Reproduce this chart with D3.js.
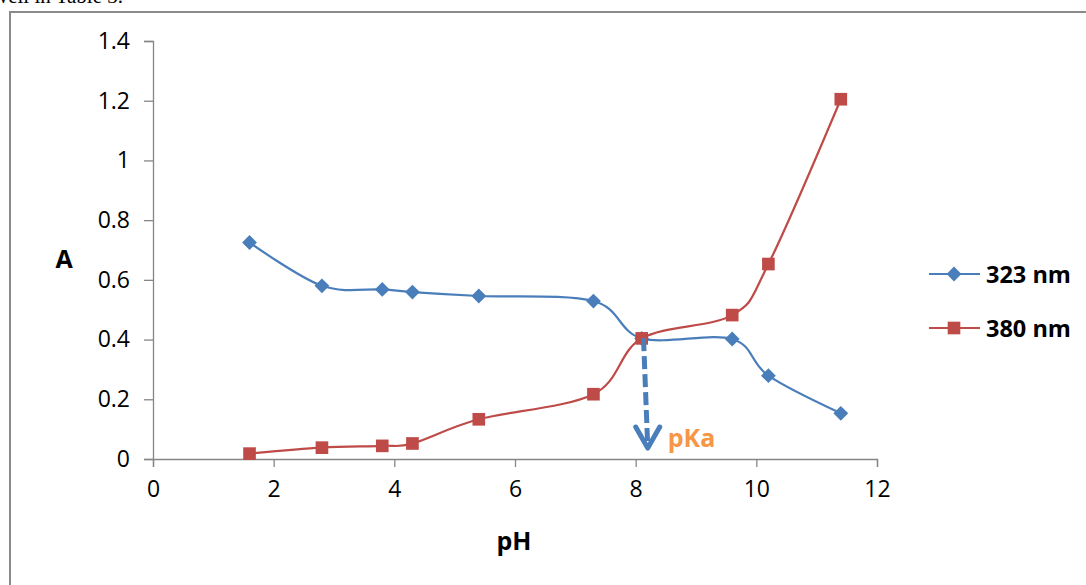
<!DOCTYPE html>
<html>
<head>
<meta charset="utf-8">
<script src="https://cdn.jsdelivr.net/npm/d3@7"></script>
<style>
body{margin:0;background:#fff;overflow:hidden;}
svg{display:block;}
</style>
</head>
<body>
<svg id="chart" width="1086" height="585"></svg>
<script>
// pH values and absorbances
let pH = [1.6, 2.8, 3.8, 4.3, 5.4, 7.3, 8.1, 9.6, 10.2, 11.4];
let abs323 = [0.725, 0.58, 0.568, 0.559, 0.546, 0.529, 0.404, 0.402, 0.279, 0.153];
let abs380 = [0.018, 0.038, 0.044, 0.052, 0.133, 0.217, 0.404, 0.482, 0.653, 1.205];
let seriesNames = ["323 nm", "380 nm"];
let xTicks = [0, 2, 4, 6, 8, 10, 12];
let yTicks = [0, 0.2, 0.4, 0.6, 0.8, 1, 1.2, 1.4];
// pKa arrow: from the crossing point down to the axis
let pkaX = [8.13, 8.2];
let pkaY = [0.405, 0.03];

let svg = d3.select("#chart");
let blue = "#4a7ebb", red = "#be4b48", grey = "#868686";
let font = "'Open Sans', sans-serif";

// page text cut off above the chart frame
svg.append("text").attr("x", -7).attr("y", 3)
  .text("well in Table 3.")
  .style("font", "21px 'Liberation Serif', serif").style("fill", "#000");

// chart frame
svg.append("path").attr("d", "M10,600V12H1100")
  .style("fill", "none").style("stroke", "#8a8a8a").style("stroke-width", 2);

let x = d3.scaleLinear().domain([0, 12]).range([153, 877]);
let y = d3.scaleLinear().domain([0, 1.4]).range([459, 41]);

let yAxis = d3.axisLeft(y).tickValues(yTicks).tickSize(9).tickPadding(14)
  .tickFormat(d => d3.format("")(+d.toFixed(1)));
let xAxis = d3.axisBottom(x).tickValues(xTicks).tickSize(8).tickPadding(14);

let gy = svg.append("g").attr("transform", "translate(153,0)").call(yAxis);
let gx = svg.append("g").attr("transform", "translate(0,459)").call(xAxis);
[gx, gy].forEach(g => {
  g.select(".domain").style("stroke", grey).style("stroke-width", 1.3);
  g.selectAll(".tick line").style("stroke", grey).style("stroke-width", 1.3);
  g.selectAll(".tick text").style("font", "23px " + font).style("fill", "#000");
});

svg.append("text").attr("x", 64).attr("y", 258).attr("text-anchor", "middle")
  .attr("dominant-baseline", "central").text("A")
  .style("font", "bold 25px " + font);
svg.append("text").attr("x", 514).attr("y", 540).attr("text-anchor", "middle")
  .attr("dominant-baseline", "central").text("pH")
  .style("font", "bold 25px " + font);

let line = d3.line().x(d => x(d[0])).y(d => y(d[1])).curve(d3.curveCatmullRom.alpha(0));

// square diamond marker
let diamond = {draw(ctx, size) {
  let r = Math.sqrt(size / 2);
  ctx.moveTo(0, -r); ctx.lineTo(r, 0); ctx.lineTo(0, r); ctx.lineTo(-r, 0); ctx.closePath();
}};

let series = [
  {name: seriesNames[0], vals: abs323, color: blue, shape: diamond, size: 110},
  {name: seriesNames[1], vals: abs380, color: red, shape: d3.symbolSquare, size: 160}
];

series.forEach((s, k) => {
  let pts = pH.map((p, i) => [p, s.vals[i]]);
  svg.append("path").attr("d", line(pts))
    .style("fill", "none").style("stroke", s.color).style("stroke-width", 2.2);
  svg.append("g").selectAll("path").data(pts).enter().append("path")
    .attr("transform", d => `translate(${x(d[0])},${y(d[1])})`)
    .attr("d", d3.symbol().type(s.shape).size(s.size))
    .style("fill", s.color);

  // legend
  let ly = 274 + k * 54;
  svg.append("line").attr("x1", 929).attr("x2", 980).attr("y1", ly).attr("y2", ly)
    .style("stroke", s.color).style("stroke-width", 2.2);
  svg.append("path").attr("transform", `translate(954,${ly})`)
    .attr("d", d3.symbol().type(s.shape).size(s.size)).style("fill", s.color);
  svg.append("text").attr("x", 986).attr("y", ly).attr("dominant-baseline", "central")
    .text(s.name).style("font", "bold 23.5px " + font);
});

// pKa arrow
let tx = x(pkaX[1]), ty = y(pkaY[1]);
svg.append("line").attr("x1", x(pkaX[0])).attr("y1", y(pkaY[0])).attr("x2", tx).attr("y2", ty - 3)
  .style("stroke", blue).style("stroke-width", 5).style("stroke-dasharray", "13,5");
svg.append("path").attr("d", `M${tx - 12},${ty - 23}L${tx},${ty - 2}L${tx + 12},${ty - 23}`)
  .style("fill", "none").style("stroke", blue).style("stroke-width", 5)
  .style("stroke-linecap", "round").style("stroke-linejoin", "round");
svg.append("text").attr("x", tx + 20).attr("y", ty - 13).attr("dominant-baseline", "central")
  .text("pKa").style("font", "bold 25px " + font).style("fill", "#f79646");
</script>
</body>
</html>
